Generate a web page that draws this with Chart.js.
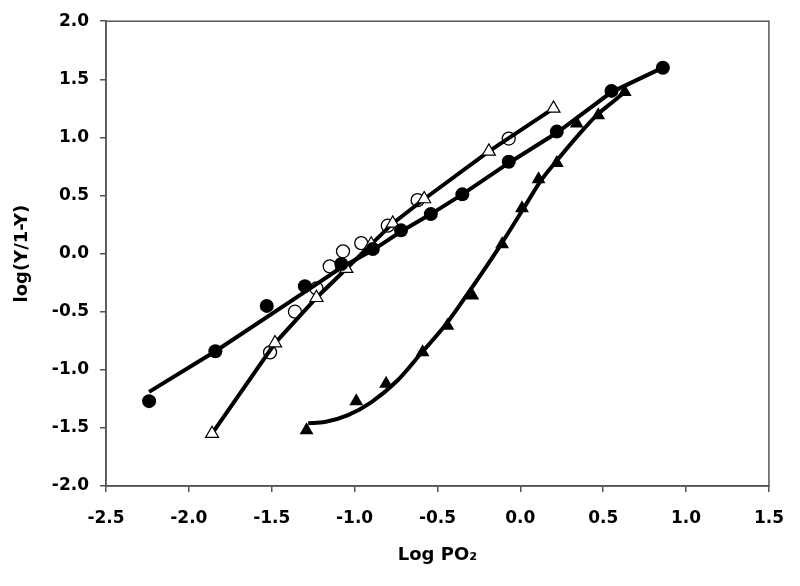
<!DOCTYPE html>
<html>
<head>
<meta charset="utf-8">
<script src="https://cdn.jsdelivr.net/npm/chart.js@4.4.1/dist/chart.umd.min.js"></script>
<style>
  html, body { margin: 0; padding: 0; background: #ffffff; }
  #wrap { width: 800px; height: 586px; }
</style>
</head>
<body>
<div id="wrap"><canvas id="c" width="800" height="586"></canvas></div>
<script>
// ---- Data ----
// Filled circles
const filledCircleX = [-2.24, -1.84, -1.53, -1.30, -1.08, -0.89, -0.72, -0.54, -0.35, -0.07, 0.22, 0.55, 0.86];
const filledCircleY = [-1.27, -0.84, -0.45, -0.28, -0.09, 0.04, 0.20, 0.34, 0.51, 0.79, 1.05, 1.40, 1.60];
// Fitted line through the filled circles
const circleFitX = [-2.24, -1.84, -1.30, -1.08, -0.89, -0.72, -0.54, -0.35, -0.07, 0.22, 0.55, 0.86];
const circleFitY = [-1.19, -0.84, -0.33, -0.12, 0.03, 0.19, 0.34, 0.51, 0.78, 1.04, 1.39, 1.60];
// Open triangles (joined by a line)
const openTriangleX = [-1.86, -1.48, -1.23, -1.05, -0.90, -0.77, -0.58, -0.19, 0.20];
const openTriangleY = [-1.55, -0.77, -0.38, -0.13, 0.08, 0.26, 0.47, 0.88, 1.25];
// Open circles
const openCircleX = [-1.51, -1.36, -1.23, -1.15, -1.07, -0.96, -0.80, -0.62, -0.07];
const openCircleY = [-0.85, -0.50, -0.30, -0.11, 0.02, 0.09, 0.24, 0.46, 0.99];
// Filled triangles
const filledTriangleX = [-1.29, -0.99, -0.81, -0.59, -0.44, -0.29, -0.11, 0.01, 0.11, 0.22, 0.34, 0.47, 0.63];
const filledTriangleY = [-1.52, -1.27, -1.12, -0.85, -0.62, -0.36, 0.08, 0.39, 0.64, 0.78, 1.12, 1.19, 1.39];
// Curve through the filled triangles
const triangleCurveX = [-1.28, -1.18, -1.04, -0.90, -0.74, -0.60, -0.45, -0.33, -0.13, 0.02, 0.12, 0.22, 0.35, 0.46, 0.57, 0.63];
const triangleCurveY = [-1.46, -1.45, -1.39, -1.28, -1.09, -0.86, -0.61, -0.37, 0.05, 0.39, 0.62, 0.80, 1.02, 1.19, 1.32, 1.39];
// Axis ticks
const xTicks = [-2.5, -2.0, -1.5, -1.0, -0.5, 0.0, 0.5, 1.0, 1.5];
const yTicks = [-2.0, -1.5, -1.0, -0.5, 0.0, 0.5, 1.0, 1.5, 2.0];
const xTitle = 'Log PO\u2082';
const yTitle = 'log(Y/1-Y)';

const pts = (xs, ys) => xs.map((x, i) => ({ x: x, y: ys[i] }));

const AXIS_COLOR = '#555555';
const FONT = 'DejaVu Sans';

const frame = {
  id: 'frame',
  beforeDatasetsDraw(chart) {
    const { ctx, chartArea: a } = chart;
    ctx.save();
    ctx.strokeStyle = AXIS_COLOR;
    ctx.lineWidth = 1.5;
    ctx.strokeRect(a.left, a.top, a.right - a.left, a.bottom - a.top);
    ctx.restore();
  }
};

new Chart(document.getElementById('c'), {
  type: 'scatter',
  data: {
    datasets: [
      {
        label: 'open circles',
        data: pts(openCircleX, openCircleY),
        pointStyle: 'circle', pointRadius: 6.5, pointBorderWidth: 1.3,
        pointBackgroundColor: '#ffffff', pointBorderColor: '#000000',
        showLine: false, order: 6
      },
      {
        label: 'circle fit',
        data: pts(circleFitX, circleFitY),
        showLine: true, borderColor: '#000000', borderWidth: 4,
        pointRadius: 0, tension: 0, order: 5
      },
      {
        label: 'triangle curve',
        data: pts(triangleCurveX, triangleCurveY),
        showLine: true, borderColor: '#000000', borderWidth: 4,
        pointRadius: 0, cubicInterpolationMode: 'monotone', order: 5
      },
      {
        label: 'open triangles',
        data: pts(openTriangleX, openTriangleY),
        showLine: true, borderColor: '#000000', borderWidth: 4, tension: 0,
        pointStyle: 'triangle', pointRadius: 7.5, pointBorderWidth: 1.2,
        pointBackgroundColor: '#ffffff', pointBorderColor: '#000000', order: 4
      },
      {
        label: 'filled circles',
        data: pts(filledCircleX, filledCircleY),
        showLine: false,
        pointStyle: 'circle', pointRadius: 7, pointBorderWidth: 0,
        pointBackgroundColor: '#000000', pointBorderColor: '#000000', order: 2
      },
      {
        label: 'filled triangles',
        data: pts(filledTriangleX, filledTriangleY),
        showLine: false,
        pointStyle: 'triangle', pointRadius: 8, pointBorderWidth: 0,
        pointBackgroundColor: '#000000', pointBorderColor: '#000000', order: 1
      }
    ]
  },
  options: {
    responsive: false,
    animation: false,
    devicePixelRatio: 1,
    layout: { padding: { left: 0, right: 27, top: 19, bottom: 0 } },
    plugins: { legend: { display: false }, tooltip: { enabled: false } },
    scales: {
      x: {
        type: 'linear', position: 'bottom',
        min: -2.5, max: 1.5,
        afterBuildTicks: (s) => { s.ticks = xTicks.map(v => ({ value: v })); },
        afterFit: (s) => { s.height = 100; },
        border: { display: true, color: AXIS_COLOR, width: 1.5 },
        grid: { display: true, drawOnChartArea: false, drawTicks: true, tickLength: 6, color: AXIS_COLOR, lineWidth: 1.5 },
        ticks: {
          autoSkip: false, maxRotation: 0, padding: 16, color: '#000000',
          font: { family: FONT, size: 17, weight: 'bold' },
          callback: (v) => Number(v).toFixed(1)
        },
        title: {
          display: true, text: xTitle, color: '#000000',
          font: { family: FONT, size: 18, weight: 'bold' },
          padding: { top: 0, bottom: 20 }
        }
      },
      y: {
        type: 'linear', position: 'left',
        min: -2, max: 2,
        afterBuildTicks: (s) => { s.ticks = yTicks.map(v => ({ value: v })); },
        afterFit: (s) => { s.width = 106; },
        border: { display: true, color: AXIS_COLOR, width: 1.5 },
        grid: { display: true, drawOnChartArea: false, drawTicks: true, tickLength: 6, color: AXIS_COLOR, lineWidth: 1.5 },
        ticks: {
          autoSkip: false, padding: 11, color: '#000000',
          font: { family: FONT, size: 17, weight: 'bold' },
          callback: (v) => Number(v).toFixed(1)
        },
        title: {
          display: true, text: yTitle, color: '#000000',
          font: { family: FONT, size: 18, weight: 'bold' },
          padding: { top: 12, bottom: 0 }
        }
      }
    }
  },
  plugins: [frame]
});
</script>
</body>
</html>
